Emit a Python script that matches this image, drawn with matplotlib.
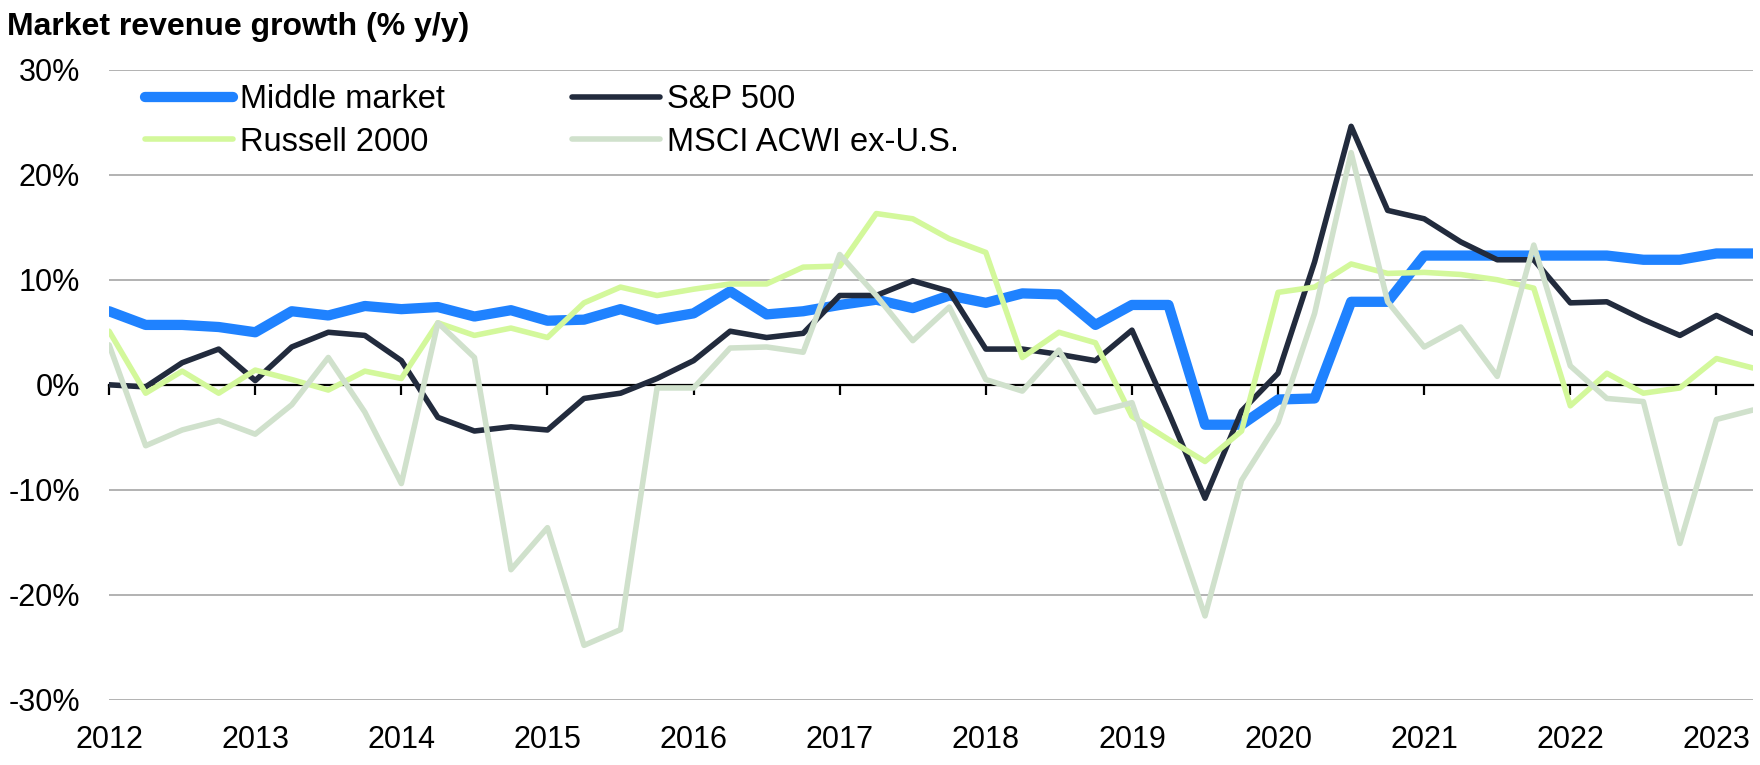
import numpy as np
import matplotlib
matplotlib.use("Agg")
import matplotlib.pyplot as plt

plt.rcParams['font.family'] = ['Liberation Sans', 'DejaVu Sans']

# quarterly data, 2012 Q1 .. 2023 Q2
years = ['2012', '2013', '2014', '2015', '2016', '2017', '2018', '2019', '2020', '2021', '2022', '2023']

middle_market = [7.0, 5.7, 5.7, 5.5, 5.0, 7.0, 6.6, 7.5, 7.2, 7.4, 6.5, 7.1,
                 6.1, 6.2, 7.2, 6.2, 6.8, 8.9, 6.7, 7.0, 7.6, 8.1, 7.3, 8.5,
                 7.8, 8.7, 8.6, 5.7, 7.6, 7.6, -3.8, -3.8, -1.4, -1.3, 7.9, 7.9,
                 12.3, 12.3, 12.3, 12.3, 12.3, 12.3, 11.9, 11.9, 12.5, 12.5]
sp500 = [0.0, -0.2, 2.1, 3.4, 0.4, 3.6, 5.0, 4.7, 2.3, -3.1, -4.4, -4.0,
         -4.3, -1.3, -0.8, 0.6, 2.3, 5.1, 4.5, 4.9, 8.5, 8.5, 9.9, 8.9,
         3.4, 3.4, 2.9, 2.3, 5.2, -2.6, -10.8, -2.5, 1.1, 11.7, 24.6, 16.6,
         15.8, 13.6, 11.9, 11.9, 7.8, 7.9, 6.2, 4.7, 6.6, 4.9]
russell = [5.1, -0.8, 1.3, -0.8, 1.4, 0.5, -0.5, 1.3, 0.6, 5.9, 4.7, 5.4,
           4.5, 7.8, 9.3, 8.5, 9.1, 9.6, 9.6, 11.2, 11.3, 16.3, 15.8, 13.9,
           12.6, 2.6, 5.0, 4.0, -3.0, -5.2, -7.3, -4.4, 8.8, 9.3, 11.5, 10.6,
           10.7, 10.5, 10.0, 9.2, -2.0, 1.1, -0.8, -0.3, 2.5, 1.6]
msci = [3.8, -5.8, -4.3, -3.4, -4.7, -1.9, 2.6, -2.6, -9.4, 5.9, 2.6, -17.6,
        -13.6, -24.8, -23.3, -0.3, -0.3, 3.5, 3.6, 3.1, 12.4, 8.5, 4.2, 7.4,
        0.5, -0.6, 3.3, -2.6, -1.7, -11.8, -22.0, -9.1, -3.6, 6.8, 22.1, 7.9,
        3.6, 5.5, 0.8, 13.3, 1.8, -1.3, -1.6, -15.1, -3.3, -2.4]

y_ticks = [30, 20, 10, 0, -10, -20, -30]
y_labels = ['30%', '20%', '10%', '0%', '-10%', '-20%', '-30%']

x = np.arange(len(middle_market))

fig = plt.figure(figsize=(17.6, 7.65), dpi=100)
ax = fig.add_axes([0.062, 0.085, 0.934, 0.824])

# 网格线
for v in y_ticks:
    if v != 0:
        ax.axhline(v, color='#a6a6a6', linewidth=1.2, zorder=1)

kw = dict(solid_capstyle='round', solid_joinstyle='round')
l1, = ax.plot(x, middle_market, color='#1f82ff', linewidth=7.4, label='Middle market', zorder=3, **kw)
l2, = ax.plot(x, sp500, color='#222b3d', linewidth=4.0, label='S&P 500', zorder=4, **kw)
l3, = ax.plot(x, russell, color='#d3f89b', linewidth=4.0, label='Russell 2000', zorder=5, **kw)
l4, = ax.plot(x, msci, color='#d0e1cc', linewidth=4.0, label='MSCI ACWI ex-U.S.', zorder=6, **kw)

ax.set_xlim(0, len(x) - 1)
ax.set_ylim(-30, 30)

for s in ['top', 'right', 'left']:
    ax.spines[s].set_visible(False)
ax.spines['bottom'].set_position(('data', 0))
ax.spines['bottom'].set_linewidth(1.6)
ax.spines['bottom'].set_zorder(2)

ax.set_yticks(y_ticks)
ax.set_yticklabels(y_labels, fontsize=22)
ax.tick_params(axis='y', length=0, pad=21)

q1_pos = x[::4]
ax.set_xticks(q1_pos)
ax.set_xticklabels([''] * len(q1_pos))
ax.tick_params(axis='x', direction='out', length=7, width=1.6, color='black')

sec = ax.secondary_xaxis('bottom')
sec.set_xticks(q1_pos)
sec.set_xticklabels(years, fontsize=22)
sec.tick_params(length=0, pad=18)
sec.spines['bottom'].set_visible(False)

ax.legend(handles=[l1, l3, l2, l4], ncol=2, loc='upper left',
          bbox_to_anchor=(0.022, 0.977), frameon=False, fontsize=23.5,
          handlelength=2.7, handletextpad=0.2, columnspacing=3.9,
          labelspacing=0.36, borderpad=0, borderaxespad=0)

fig.text(0.004, 0.965, 'Market revenue growth (% y/y)', fontsize=23,
         fontweight='bold', va='center', ha='left')

fig.savefig('out.png', dpi=100)
